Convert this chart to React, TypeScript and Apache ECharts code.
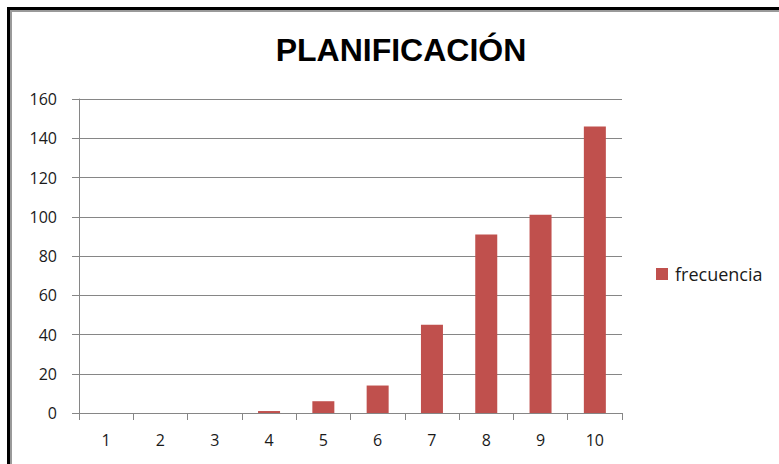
import React, { useEffect, useRef } from "react";
import * as echarts from "echarts";

const categories = ["1", "2", "3", "4", "5", "6", "7", "8", "9", "10"];
const frecuencia = [0, 0, 0, 1, 6, 14, 45, 91, 101, 146];
const seriesName = "frecuencia";
const titleText = "PLANIFICACIÓN";

export default function App() {
  const ref = useRef<HTMLDivElement>(null);
  useEffect(() => {
    if (!ref.current) return;
    const chart = echarts.init(ref.current, undefined, { renderer: "svg" });
    const axisFont = { fontFamily: "Open Sans", fontSize: 16, color: "#1a1a1a" };
    chart.setOption({
      animation: false,
      backgroundColor: "#ffffff",
      graphic: [
        { type: "rect", shape: { x: 7, y: 7, width: 3, height: 460 }, style: { fill: "#000" } },
        { type: "rect", shape: { x: 7, y: 7, width: 780, height: 3 }, style: { fill: "#000" } },
        { type: "rect", shape: { x: 10, y: 10, width: 2, height: 460 }, style: { fill: "#9a9a9a" } },
        { type: "rect", shape: { x: 10, y: 10, width: 780, height: 2 }, style: { fill: "#9a9a9a" } },
        {
          type: "text",
          x: 401,
          y: 50,
          style: {
            text: titleText,
            align: "center",
            verticalAlign: "middle",
            fontFamily: "Liberation Sans",
            fontWeight: "bold",
            fontSize: 32,
            fill: "#000",
          },
        },
      ],
      legend: {
        data: [seriesName],
        left: 651,
        top: 260,
        itemWidth: 12,
        itemHeight: 12,
        icon: "rect",
        textStyle: { fontFamily: "Open Sans", fontSize: 18, color: "#1a1a1a", padding: [0, 0, 0, 2] },
      },
      grid: { left: 79, right: 157, top: 99, bottom: 51, containLabel: false },
      xAxis: {
        type: "category",
        data: categories,
        axisLine: { lineStyle: { color: "#868686", width: 1 } },
        axisTick: { show: true, length: 7, alignWithLabel: false, lineStyle: { color: "#868686" } },
        axisLabel: { ...axisFont, margin: 19 },
      },
      yAxis: {
        type: "value",
        min: 0,
        max: 160,
        interval: 20,
        axisLine: { show: true, lineStyle: { color: "#868686", width: 1 } },
        axisTick: { show: true, length: 7, lineStyle: { color: "#868686" } },
        axisLabel: { ...axisFont, margin: 22 },
        splitLine: { lineStyle: { color: "#868686", width: 1 } },
      },
      series: [
        {
          name: seriesName,
          type: "bar",
          data: frecuencia,
          barWidth: 22,
          itemStyle: { color: "#C0504D" },
        },
      ],
    });
    return () => chart.dispose();
  }, []);
  return (
    <div
      ref={ref}
      style={{ position: "fixed", left: 0, top: 0, width: 779, height: 464 }}
    />
  );
}
